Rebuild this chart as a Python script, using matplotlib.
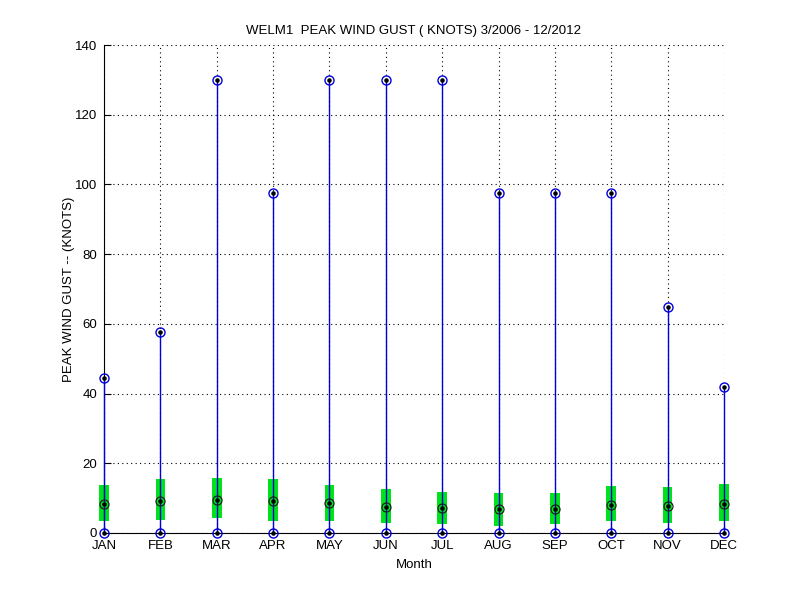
import matplotlib
matplotlib.use("Agg")
import matplotlib.pyplot as plt
import numpy as np

months = ["JAN", "FEB", "MAR", "APR", "MAY", "JUN", "JUL", "AUG", "SEP", "OCT", "NOV", "DEC"]
gust_max = [44.5, 57.6, 129.9, 97.5, 129.9, 129.9, 129.9, 97.5, 97.5, 97.5, 64.8, 41.8]
gust_min = [0, 0, 0, 0, 0, 0, 0, 0, 0, 0, 0, 0]
box_top = [13.8, 15.5, 15.8, 15.5, 13.8, 12.6, 11.8, 11.5, 11.5, 13.5, 13.2, 14.1]
box_bot = [3.5, 3.7, 4.4, 3.5, 3.4, 3.0, 2.5, 2.1, 2.7, 3.5, 3.0, 3.5]
gust_med = [8.2, 9.2, 9.5, 9.2, 8.6, 7.5, 7.1, 6.9, 6.9, 8.0, 7.7, 8.3]

plt.rcParams['font.family'] = ['Liberation Sans', 'DejaVu Sans']
fig = plt.figure(figsize=(8, 6), dpi=100)
ax = fig.add_axes([0.13, 0.1117, 0.775, 0.8133])

blue = '#0000dd'
x = np.arange(1, 13)
# green boxes
for xi, b, t in zip(x, box_bot, box_top):
    ax.add_patch(plt.Rectangle((xi - 0.085, b), 0.17, t - b, facecolor='#00e21a',
                               edgecolor='none', zorder=2, clip_on=False))
# whiskers
ax.vlines(x, gust_min, gust_max, color=blue, lw=1.0, zorder=3, clip_on=False)
# max / min markers
for vals in (gust_max, gust_min):
    ax.plot(x, vals, 'o', mfc='none', mec=blue, ms=6.5, mew=1.0, zorder=4, clip_on=False)
    ax.plot(x, vals, '.', color='black', ms=4.5, zorder=5, clip_on=False)
# median markers
ax.plot(x, gust_med, 'o', mfc='none', mec='#202020', ms=6.5, mew=0.9, zorder=4, clip_on=False)
ax.plot(x, gust_med, '.', color='black', ms=4.5, zorder=5, clip_on=False)

ax.set_xlim(1, 12)
ax.set_ylim(0, 140)
ax.set_xticks(x)
ax.set_xticklabels(months, fontsize=9.5)
ax.set_yticks(np.arange(0, 141, 20))
ax.tick_params(axis='both', direction='in', length=5, labelsize=9.5)
ax.tick_params(axis='x', pad=5)
ax.tick_params(axis='y', pad=5)
ax.grid(True, linestyle=(0, (1, 3)), color='black', lw=0.8)
ax.set_axisbelow(True)
ax.spines['top'].set_visible(False)
ax.spines['right'].set_visible(False)
ax.set_title("WELM1  PEAK WIND GUST ( KNOTS) 3/2006 - 12/2012", fontsize=9.5, pad=8)
ax.set_xlabel("Month", fontsize=9.5, labelpad=5)
ax.set_ylabel("PEAK WIND GUST -- (KNOTS)", fontsize=9.5, labelpad=0)

fig.savefig("out.png", dpi=100)
